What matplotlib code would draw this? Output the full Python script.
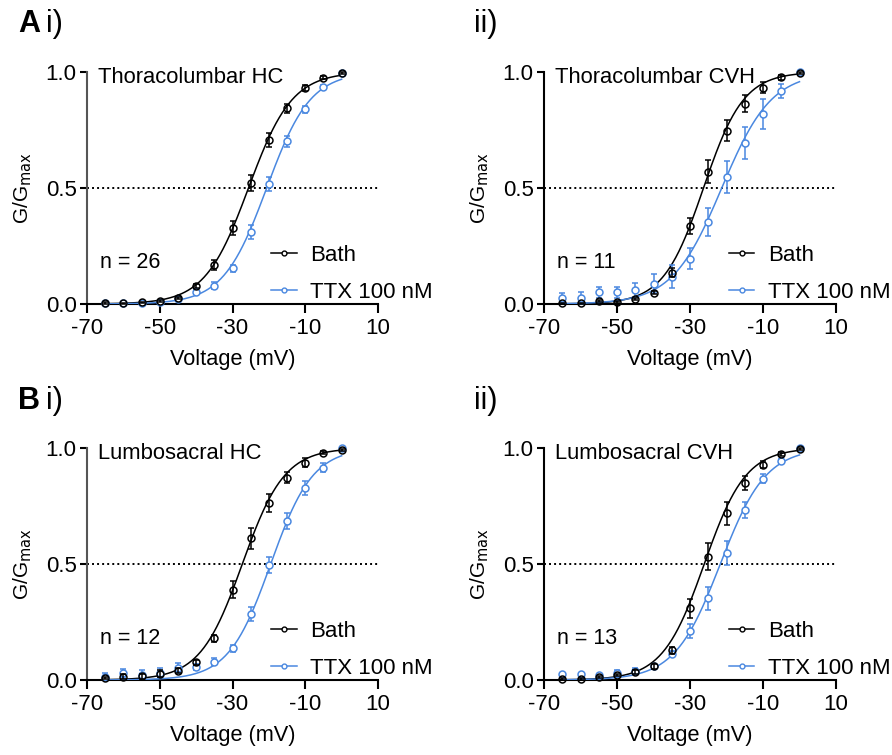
import numpy as np
import matplotlib
matplotlib.use("Agg")
import matplotlib.pyplot as plt

plt.rcParams['font.family'] = ['Liberation Sans', 'DejaVu Sans']

# voltage steps (mV)
voltage = [-65, -60, -55, -50, -45, -40, -35, -30, -25, -20, -15, -10, -5, 0]

# --- A i) Thoracolumbar HC
a1_bath = [0.005, 0.003, 0.007, 0.012, 0.026, 0.078, 0.168, 0.328, 0.522, 0.705, 0.843, 0.93, 0.976, 0.995]
a1_bath_err = [0.003, 0.003, 0.003, 0.004, 0.005, 0.01, 0.02, 0.03, 0.035, 0.03, 0.02, 0.012, 0.005, 0.003]
a1_ttx = [0.005, 0.004, 0.005, 0.01, 0.02, 0.053, 0.078, 0.155, 0.309, 0.516, 0.701, 0.84, 0.934, 0.995]
a1_ttx_err = [0.003, 0.003, 0.003, 0.003, 0.004, 0.01, 0.015, 0.015, 0.03, 0.03, 0.025, 0.015, 0.01, 0.003]

# --- A ii) Thoracolumbar CVH
a2_bath = [0.003, 0.003, 0.012, 0.01, 0.023, 0.049, 0.135, 0.335, 0.57, 0.747, 0.864, 0.933, 0.977, 0.995]
a2_bath_err = [0.002, 0.002, 0.004, 0.004, 0.005, 0.008, 0.02, 0.035, 0.05, 0.045, 0.035, 0.025, 0.01, 0.004]
a2_ttx = [0.026, 0.026, 0.05, 0.05, 0.06, 0.088, 0.117, 0.195, 0.354, 0.547, 0.695, 0.82, 0.92, 1.0]
a2_ttx_err = [0.02, 0.025, 0.025, 0.025, 0.03, 0.04, 0.05, 0.045, 0.06, 0.07, 0.07, 0.065, 0.03, 0.005]

# --- B i) Lumbosacral HC
b1_bath = [0.009, 0.014, 0.016, 0.027, 0.04, 0.076, 0.18, 0.39, 0.61, 0.763, 0.872, 0.937, 0.98, 0.993]
b1_bath_err = [0.005, 0.01, 0.01, 0.015, 0.01, 0.01, 0.015, 0.035, 0.045, 0.04, 0.025, 0.02, 0.005, 0.004]
b1_ttx = [0.014, 0.029, 0.023, 0.03, 0.052, 0.056, 0.079, 0.136, 0.283, 0.496, 0.684, 0.829, 0.915, 1.0]
b1_ttx_err = [0.015, 0.02, 0.02, 0.02, 0.02, 0.015, 0.015, 0.015, 0.03, 0.035, 0.035, 0.03, 0.02, 0.005]

# --- B ii) Lumbosacral CVH
b2_bath = [0.004, 0.005, 0.014, 0.022, 0.036, 0.059, 0.129, 0.309, 0.532, 0.718, 0.848, 0.927, 0.974, 0.996]
b2_bath_err = [0.003, 0.003, 0.004, 0.005, 0.008, 0.012, 0.015, 0.04, 0.06, 0.05, 0.03, 0.015, 0.008, 0.004]
b2_ttx = [0.026, 0.026, 0.022, 0.032, 0.04, 0.06, 0.112, 0.21, 0.353, 0.547, 0.734, 0.868, 0.944, 1.0]
b2_ttx_err = [0.005, 0.005, 0.005, 0.01, 0.01, 0.01, 0.015, 0.03, 0.05, 0.05, 0.035, 0.02, 0.01, 0.005]

# Boltzmann fit parameters (V1/2 in mV, slope k in mV)
bath_vhalf = [-25.6, -26.3, -27.3, -26.1]
bath_slope = [6.0, 5.5, 5.8, 5.7]
ttx_vhalf = [-20.6, -21.3, -19.5, -21.7]
ttx_slope = [6.0, 6.8, 5.8, 6.25]

panel_titles = ['Thoracolumbar HC', 'Thoracolumbar CVH', 'Lumbosacral HC', 'Lumbosacral CVH']
panel_n = ['n = 26', 'n = 11', 'n = 12', 'n = 13']
panel_tags = [('A', 'i)'), ('', 'ii)'), ('B', 'i)'), ('', 'ii)')]

bath_data = [(a1_bath, a1_bath_err), (a2_bath, a2_bath_err), (b1_bath, b1_bath_err), (b2_bath, b2_bath_err)]
ttx_data = [(a1_ttx, a1_ttx_err), (a2_ttx, a2_ttx_err), (b1_ttx, b1_ttx_err), (b2_ttx, b2_ttx_err)]

BLUE = '#4a88e0'
W, H = 892, 755

# axes rectangles in pixels: (left, top of 1.0, right, y of 0.0)
rects = [(87, 72, 378, 304), (544, 72, 836, 304), (87, 448, 378, 680), (544, 448, 836, 680)]


def boltzmann(v, vh, k):
    return 1.0 / (1.0 + np.exp((vh - v) / k))


fig = plt.figure(figsize=(W / 100, H / 100), dpi=100)

for i in range(4):
    x0, y1, x1, y0 = rects[i]
    ax = fig.add_axes([x0 / W, 1 - y0 / H, (x1 - x0) / W, (y0 - y1) / H])
    ax.set_xlim(-70, 10)
    ax.set_ylim(0, 1)

    vfit = np.linspace(-65, 0, 300)
    ax.plot(vfit, boltzmann(vfit, bath_vhalf[i], bath_slope[i]), color='black', lw=1.1, zorder=3)
    ax.plot(vfit, boltzmann(vfit, ttx_vhalf[i], ttx_slope[i]), color=BLUE, lw=1.1, zorder=3)

    ax.axhline(0.5, color='black', ls=(0, (1, 1.6)), lw=1.4, zorder=1)

    ttx, ttx_err = ttx_data[i]
    ax.errorbar(voltage, ttx, yerr=ttx_err, fmt='o', ms=5, mfc='white', mec=BLUE, mew=1.1,
                ecolor=BLUE, elinewidth=1.1, capsize=2.5, capthick=1.1, clip_on=False, zorder=4)
    bath, bath_err = bath_data[i]
    ax.errorbar(voltage, bath, yerr=bath_err, fmt='o', ms=5, mfc='none', mec='black', mew=1.1,
                ecolor='black', elinewidth=1.1, capsize=2.5, capthick=1.1, clip_on=False, zorder=5)

    # legend handles (line + small marker)
    h1, = ax.plot([], [], color='black', lw=1.1, marker='o', ms=3.5, mfc='white', mew=1.0, label='Bath')
    h2, = ax.plot([], [], color=BLUE, lw=1.1, marker='o', ms=3.5, mfc='white', mew=1.0, label='TTX 100 nM')
    ax.legend(handles=[h1, h2], loc='lower left', bbox_to_anchor=(0.633, 0.005), frameon=False,
              fontsize=16, handlelength=1.15, handletextpad=0.6, labelspacing=0.72, borderpad=0,
              borderaxespad=0)

    ax.text(0.038, 0.975, panel_titles[i], transform=ax.transAxes, ha='left', va='center', fontsize=15.8)
    ax.text(0.045, 0.18, panel_n[i], transform=ax.transAxes, ha='left', va='center', fontsize=15.5)

    for side in ['top', 'right']:
        ax.spines[side].set_visible(False)
    ax.spines['left'].set_linewidth(1.5)
    ax.spines['bottom'].set_linewidth(1.5)
    ax.spines['left'].set_color('#555555' if i % 2 == 0 else 'black')

    ax.set_xticks([-70, -50, -30, -10, 10])
    ax.set_xticklabels(['-70', '-50', '-30', '-10', '10'])
    ax.set_yticks([0, 0.5, 1.0])
    ax.set_yticklabels(['0.0', '0.5', '1.0'])
    ax.tick_params(axis='both', labelsize=16, width=1.5, length=5, direction='out', pad=2.5)
    ax.tick_params(axis='x', length=6.5, pad=3.5)

    ax.set_xlabel('Voltage (mV)', fontsize=15.7, labelpad=7)
    ax.set_ylabel('G/G$_{\\mathrm{max}}$', fontsize=15, labelpad=8)

    # panel tags
    letter, roman = panel_tags[i]
    tx = 18 if i % 2 == 0 else 474
    ty = 24 if i < 2 else 401
    if letter:
        fig.text(tx / W, 1 - ty / H, letter, fontsize=22, fontweight='bold', ha='left', va='center')
        fig.text((tx + 28) / W, 1 - ty / H, roman, fontsize=22, ha='left', va='center')
    else:
        fig.text(tx / W, 1 - ty / H, roman, fontsize=22, ha='left', va='center')

fig.savefig('out.png', dpi=100, facecolor='white')
